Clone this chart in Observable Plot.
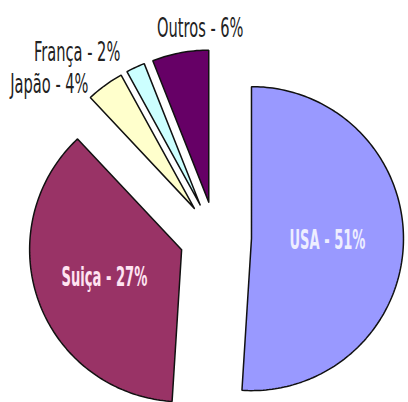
<!DOCTYPE html>
<html><head><meta charset="utf-8">
<script src="https://cdn.jsdelivr.net/npm/d3@7"></script>
<script src="https://cdn.jsdelivr.net/npm/@observablehq/plot@0.6"></script>
<style>body{margin:0;background:#fff} svg{display:block}</style>
</head><body><div id="chart"></div>
<script>
// Data
const countries = ["USA", "Suiça", "Japão", "França", "Outros"];
const shares = [51, 37, 4, 2, 6];          // wedge sizes as drawn
const labels = ["USA - 51%", "Suiça - 27%", "Japão - 4%", "França - 2%", "Outros - 6%"];
const colors = ["#9999ff", "#993366", "#ffffcc", "#ccffff", "#660066"];

// Layout (not data)
const W = 408, H = 402, cx = 215, cy = 237, R = 152, explode = 36;
const labelLayout = [
  {frac: 0.5, rad: 0.5, group: "in", fill: "#eeeeff"},
  {frac: 0.5, rad: 0.54, group: "in", fill: "#ffe4f2"},
  {frac: 0.18, rad: 1.07, group: "end", fill: "#222"},
  {frac: 0.15, rad: 1.13, group: "end", fill: "#222"},
  {frac: 0.87, rad: 1.14, group: "mid", fill: "#222"}
];

const arcs = d3.pie().sort(null).value(d => d)(shares);
const wedgePts = [];
const labelPts = [];
arcs.forEach((p, i) => {
  const mid = (p.startAngle + p.endAngle) / 2;
  const ox = cx + explode * Math.sin(mid), oy = cy - explode * Math.cos(mid);
  wedgePts.push({i, x: ox, y: oy, c: colors[i]});
  const n = Math.max(2, Math.ceil((p.endAngle - p.startAngle) / 0.02));
  for (let k = 0; k <= n; k++) {
    const a = p.startAngle + (p.endAngle - p.startAngle) * k / n;
    wedgePts.push({i, x: ox + R * Math.sin(a), y: oy - R * Math.cos(a), c: colors[i]});
  }
  wedgePts.push({i, x: ox, y: oy, c: colors[i]});
  const L = labelLayout[i];
  const a = p.startAngle + (p.endAngle - p.startAngle) * L.frac;
  labelPts.push({i, name: countries[i], text: labels[i], group: L.group, fill: L.fill,
    x: ox + L.rad * R * Math.sin(a), y: oy - L.rad * R * Math.cos(a)});
});

const font = "'Liberation Sans Narrow', 'Arial Narrow', 'DejaVu Sans Condensed', sans-serif";
const chart = Plot.plot({
  width: W, height: H,
  margin: 0,
  x: {domain: [0, W], range: [0, W], axis: null},
  y: {domain: [0, H], range: [0, H], axis: null},
  style: {background: "#fff"},
  marks: [
    Plot.line(wedgePts, {x: "x", y: "y", z: "i", fill: "c", stroke: "#111", strokeWidth: 1.5, strokeLinejoin: "miter", curve: "linear"}),
    Plot.text(labelPts.filter(d => d.group === "in"), {x: "x", y: "y", text: "text", fill: "fill", fontSize: 26, fontWeight: "bold", fontFamily: font, textAnchor: "middle"}),
    Plot.text(labelPts.filter(d => d.group === "end"), {x: "x", y: "y", text: "text", fill: "fill", fontSize: 26, fontFamily: font, textAnchor: "end"}),
    Plot.text(labelPts.filter(d => d.group === "mid"), {x: "x", y: "y", text: "text", fill: "fill", fontSize: 26, fontFamily: font, textAnchor: "middle"})
  ]
});
document.getElementById("chart").appendChild(chart);
chart.querySelectorAll("text").forEach(t => {
  const bold = (t.closest("[font-weight]") || t).getAttribute("font-weight") === "bold";
  const w = t.getComputedTextLength();
  t.setAttribute("textLength", (w * (bold ? 0.56 : 0.625)).toFixed(1));
  t.setAttribute("lengthAdjust", "spacingAndGlyphs");
});
</script>
</body></html>
